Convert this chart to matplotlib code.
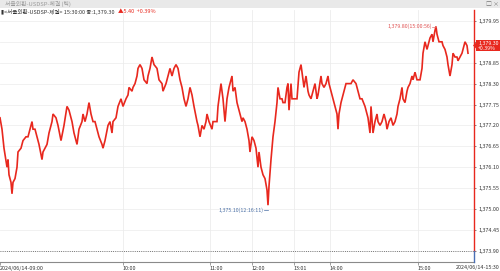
import matplotlib
matplotlib.use('Agg')
import matplotlib.pyplot as plt
from matplotlib.patches import Rectangle, Polygon

plt.rcParams['font.family'] = ['Noto Sans CJK KR', 'DejaVu Sans']

# tick sequence number (trade order) and traded price
tick_no = [0, 2, 4, 7, 8, 9, 11, 12, 13, 15, 17, 18, 21, 23, 26, 28, 32, 33, 35, 37, 39, 42, 43, 47, 49,
           52, 53, 56, 58, 61, 64, 67, 69, 72, 74, 77, 79, 82, 83, 85, 87, 89, 91, 93, 95,
           97, 99, 102, 103, 105, 108, 110, 112, 113, 116, 118, 121, 123, 126, 128, 129, 132, 133, 135,
           137, 138, 140, 142, 144, 147, 148, 150, 152, 154, 157, 159, 162, 163, 166, 168, 170, 172, 174,
           176, 178, 180, 182, 184, 186, 188, 190,
           192, 194, 197, 198, 200, 202, 204, 206, 207, 209, 212, 213, 215, 217, 218, 221, 223, 225, 227,
           229, 232, 233, 235, 237, 239, 242, 243, 245, 247, 249, 250, 252, 254, 256, 258, 259, 261, 263,
           265, 267, 268, 269, 271, 272, 273, 275, 277, 278, 280, 282, 283, 285,
           287, 288, 289, 291, 292, 294, 297, 299, 301, 302, 304, 306, 308, 309, 311, 313, 315, 317, 318,
           321, 322, 324, 326, 328, 329, 332, 334, 337, 338, 339, 341, 343, 346, 348, 351, 353, 356, 358,
           360, 362, 365, 368, 370, 371, 373, 375, 377, 378, 380,
           382, 384, 386, 387, 389, 391, 393, 395, 397, 398, 400, 402, 403, 405, 407, 408, 410, 412, 413,
           415, 417, 418, 420, 422, 423, 425, 427, 428, 430, 432, 433, 435, 436, 437, 439, 442, 443, 445,
           447, 448, 450, 452, 453, 455, 457, 458, 460, 462, 463, 465, 467, 468]

price = [1377.4, 1377.1, 1376.6, 1376.1, 1376.3, 1375.9, 1375.7, 1375.4, 1375.7, 1375.8, 1376.1, 1376.5,
         1376.6, 1376.8, 1376.9, 1376.9, 1377.3, 1377.1, 1377.1, 1376.9, 1376.7, 1376.3, 1376.5, 1376.7,
         1377.0, 1377.3, 1377.5, 1377.4, 1377.2, 1376.8, 1377.2, 1377.7, 1377.6, 1377.3, 1377.0, 1376.7,
         1377.1, 1377.3, 1377.5, 1377.3, 1377.5, 1377.8, 1377.5, 1377.3, 1377.3,
         1377.1, 1376.9, 1376.7, 1376.6, 1376.8, 1377.2, 1377.3, 1377.0, 1377.3, 1377.4, 1377.7, 1377.9,
         1377.7, 1377.9, 1378.0, 1378.2, 1378.1, 1378.2, 1378.3, 1378.5, 1378.7, 1378.8, 1378.7, 1378.4,
         1378.3, 1378.5, 1378.7, 1379.0, 1378.8, 1378.7, 1378.4, 1378.3, 1378.1, 1378.3, 1378.5, 1378.7,
         1378.5, 1378.7, 1378.8, 1378.7, 1378.4, 1378.2, 1377.9, 1377.7, 1377.9, 1378.2,
         1378.0, 1377.7, 1377.3, 1377.2, 1376.9, 1377.2, 1377.1, 1377.3, 1377.5, 1377.3, 1377.1, 1377.3,
         1377.3, 1377.3, 1377.7, 1378.3, 1377.9, 1377.3, 1377.9, 1378.2, 1378.5, 1378.1, 1378.2, 1377.8,
         1377.6, 1377.3, 1377.4, 1377.3, 1377.1, 1376.8, 1376.5, 1376.9, 1376.8, 1376.6, 1376.1, 1376.5,
         1376.1, 1375.9, 1375.8, 1375.5, 1375.1, 1375.6, 1376.3, 1376.6, 1376.9, 1377.3, 1377.8, 1378.2,
         1377.9, 1377.9, 1377.8, 1377.8,
         1378.2, 1378.3, 1377.6, 1378.3, 1377.9, 1377.9, 1377.9, 1378.6, 1378.8, 1378.6, 1378.2, 1378.5,
         1378.1, 1378.0, 1377.9, 1378.1, 1378.3, 1377.9, 1378.0, 1378.5, 1378.3, 1378.2, 1378.3, 1378.5,
         1378.3, 1378.0, 1377.8, 1377.5, 1377.1, 1377.5, 1377.8, 1378.0, 1378.3, 1378.3, 1378.3, 1378.4,
         1378.3, 1378.1, 1377.9, 1377.9, 1377.7, 1377.4, 1377.0, 1377.7, 1377.0, 1377.3, 1377.5, 1377.3,
         1377.2,
         1377.3, 1377.5, 1377.3, 1377.1, 1377.3, 1377.4, 1377.2, 1377.3, 1377.5, 1377.7, 1377.9, 1378.2,
         1377.9, 1377.8, 1378.1, 1378.2, 1378.3, 1378.5, 1378.4, 1378.6, 1378.4, 1378.4, 1378.4, 1378.7,
         1379.1, 1379.4, 1379.2, 1379.3, 1379.5, 1379.6, 1379.4, 1379.7, 1379.8, 1379.6, 1379.4, 1379.4,
         1379.3, 1379.2, 1379.0, 1378.8, 1378.5, 1378.8, 1379.1, 1379.0, 1379.0, 1378.9, 1379.0, 1379.1,
         1379.2, 1379.4, 1379.3, 1379.1]

ytick_vals = [1379.95, 1379.40, 1378.85, 1378.30, 1377.75, 1377.20, 1376.65, 1376.10,
              1375.55, 1375.00, 1374.45, 1373.90]
xtick_pos = [0, 123, 210, 252, 294, 330, 418, 474]
xtick_labels = ['2024/06/14-09:00', '10:00', '11:00', '12:00', '13:01', '14:00', '15:00',
                '2024/06/14-15:30']
high_val, high_label, high_pos = 1379.80, '1,379.80(15:00:56)', 436
low_val, low_label, low_pos = 1375.10, '1,375.10(12:16:11)', 268
last_price, last_change = '1,379.30', '+0.39%'
info_text = '▮<서울외환-USDSP-체결> 15:30:00 종:1,379.30'
info_change = '▲5.40  +0.39%'
ref_level = 1373.90

RED = '#e8281e'
W, H = 500, 271
fig = plt.figure(figsize=(W / 100, H / 100), dpi=100)
fig.patch.set_facecolor('white')
ax = fig.add_axes([0, (H - 262) / H, 474 / W, 252 / H])
ax.set_xlim(0, 474)
ax.set_ylim(1373.605, 1380.237)

for s in ['top', 'left', 'right']:
    ax.spines[s].set_visible(False)
ax.spines['bottom'].set_color('#8a8a8a')
ax.spines['bottom'].set_linewidth(0.8)

# grid
for yv in ytick_vals:
    ax.axhline(yv, color='#efefef', lw=0.6, zorder=0)
for xv in xtick_pos[1:-1]:
    ax.axvline(xv, color='#ececec', lw=0.6, zorder=0)

ax.axhline(ref_level, color='#555555', lw=0.6, ls=(0, (1, 1.6)), zorder=1)

ax.plot(tick_no, price, color=RED, lw=1.2, zorder=3, solid_joinstyle='miter')

# y ticks on right
ax.yaxis.tick_right()
ax.set_yticks(ytick_vals)
ax.set_yticklabels(['{:,.2f}'.format(v) for v in ytick_vals], fontsize=3.9, color='#333333')
ax.tick_params(axis='y', length=1.5, width=0.5, pad=1.5, colors='#555555', labelcolor='#333333')

# x ticks
ax.set_xticks(xtick_pos[:-1])
ax.set_xticklabels(xtick_labels[:-1], fontsize=3.9, color='#333333', ha='left')
ax.tick_params(axis='x', length=2, width=0.5, pad=1, colors='#777777', labelcolor='#333333')
ax.text(1.0 + 26 / 474, -0.012, xtick_labels[-1], transform=ax.transAxes, fontsize=3.9,
        color='#333333', ha='right', va='top', clip_on=False)

# vertical current line
ax.plot([474, 474], [ref_level, 1380.237], color=RED, lw=1.0, clip_on=False, zorder=4)
ax.plot([474, 474], [1373.605, ref_level], color='#4a6fb5', lw=1.0, clip_on=False, zorder=4)

# high / low annotations
ax.plot([high_pos - 4, high_pos], [high_val, high_val], color='#e07070', lw=0.5, zorder=4)
ax.text(high_pos - 4.5, high_val, high_label, fontsize=3.8, color='#e05050', ha='right', va='center')
ax.plot([low_pos - 4, low_pos], [low_val - 0.13, low_val - 0.13], color='#4a6fa5', lw=0.5, zorder=4)
ax.text(low_pos - 4.5, low_val - 0.13, low_label, fontsize=3.8, color='#4a6fa5', ha='right', va='center')

# last price box on right
fig.patches.append(Rectangle((476 / W, 1 - 51 / H), 24 / W, 11 / H, transform=fig.transFigure,
                             facecolor=RED, edgecolor='none'))
fig.patches.append(Polygon([[476 / W, 1 - 42.5 / H], [476 / W, 1 - 48.5 / H], [473 / W, 1 - 45.5 / H]],
                           closed=True, transform=fig.transFigure, facecolor=RED, edgecolor='none'))
fig.text(478 / W, 1 - 43 / H, last_price, fontsize=3.8, color='white', va='center', ha='left')
fig.text(478 / W, 1 - 48.5 / H, last_change, fontsize=3.8, color='white', va='center', ha='left')

# title bar
fig.patches.append(Rectangle((0, 1 - 8 / H), 1, 8 / H, transform=fig.transFigure,
                             facecolor='#e9e9e9', edgecolor='none'))
fig.text(5 / W, 1 - 4 / H, '서울외환-USDSP-체결 (틱)', fontsize=4.2, color='#9a9a9a', va='center')
fig.text(486 / W, 1 - 4 / H, '□ ×', fontsize=4.2, color='#777777', va='center')
t1 = fig.text(1 / W, 1 - 11.5 / H, info_text, fontsize=4.0, color='#333333', va='center')
fig.canvas.draw()
bb = t1.get_window_extent(fig.canvas.get_renderer())
fig.text((bb.x1 + 3) / W, 1 - 11.5 / H, info_change, fontsize=4.0, color=RED, va='center')

fig.savefig('out.png', dpi=100)
